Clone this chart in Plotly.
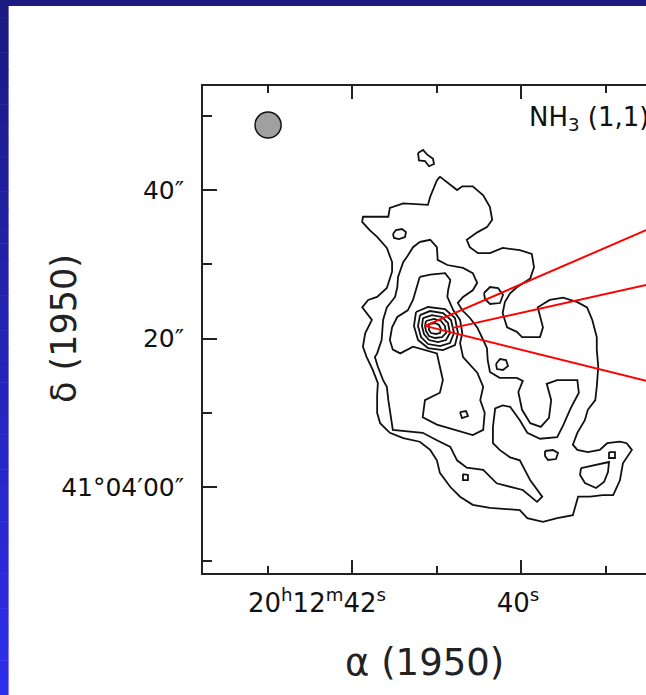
import math
import plotly.graph_objects as go

# ---------------- data ----------------
# Offsets in arcsec from RA 20h12m42s, Dec 41°04'00" (B1950); RA offset grows to the east (left).
DEC0_DEG = 41 + 4 / 60
RA_TICK_SEC = [43, 42, 41, 40, 39]
RA_LABELLED_SEC = [42, 40]
RA_TICK_TEXT = ["20<sup>h</sup>12<sup>m</sup>42<sup>s</sup>", "40<sup>s</sup>"]
DEC_TICKS = [-10, 0, 10, 20, 30, 40, 50]
DEC_LABELLED = [0, 20, 40]
DEC_TICK_TEXT = ["41°04′00″", "20″", "40″"]

# NH3 (1,1) integrated-intensity contours, traced (x = RA offset ", y = Dec offset ")
level1_x = [-11.7, -12.8, -14.0, -14.7, -16.1, -17.5, -18.4, -18.7, -18.0, -16.7, -15.3, -15.7, -16.8, -18.4,
            -20.1, -22.4, -24.0, -24.3, -23.8, -22.0, -21.1, -20.4, -20.1, -20.7, -22.0, -22.7, -25.1, -25.5,
            -24.8, -26.4, -28.2, -30.1, -31.4, -32.1, -32.7, -32.7, -32.9, -32.7, -32.5, -31.5, -31.1, -30.1,
            -29.5, -30.1, -31.5, -33.1, -34.1, -35.8, -36.7, -37.4, -36.7, -36.2, -35.8, -34.9, -33.5, -31.8,
            -30.2, -29.5, -27.4, -25.5, -23.4, -22.4, -18.4, -16.1, -14.4, -13.1, -11.7, -11.3, -10.4, -9.0,
            -6.8, -5.0, -3.7, -3.3, -3.3, -3.4, -2.7, -1.9, -1.4, -1.7, -2.6, -1.9, -1.3, -2.1, -3.3, -4.6,
            -5.3, -5.3, -4.6, -3.3, -2.3, -1.3, -1.4, -4.8, -5.0, -6.8, -10.1, -10.4, -11.3, -11.7]
level1_y = [41.8, 40.9, 40.0, 40.5, 40.5, 39.3, 37.7, 36.0, 35.0, 34.3, 33.3, 32.3, 31.5, 31.5,
            32.2, 31.9, 31.4, 29.6, 28.1, 26.9, 26.1, 24.9, 23.4, 21.5, 20.9, 20.2, 20.2, 21.5,
            24.2, 25.2, 25.5, 24.9, 24.2, 22.5, 20.2, 18.5, 16.2, 13.5, 11.7, 10.4, 9.0, 7.3,
            5.7, 5.0, 4.7, 5.0, 5.9, 6.1, 5.9, 5.0, 4.0, 3.2, 0.9, -1.1, -1.1, -1.3,
            -1.3, -3.8, -4.2, -4.7, -4.2, -3.1, -2.8, -2.4, -1.3, 0.0, 1.9, 3.6, 5.0, 6.1,
            6.6, 7.3, 8.6, 10.0, 12.4, 14.0, 15.8, 17.5, 18.9, 20.7, 22.5, 23.4, 24.2, 25.2, 25.6, 26.8,
            29.0, 30.3, 32.2, 33.7, 34.6, 35.7, 36.4, 36.4, 37.6, 38.2, 38.0, 39.1, 41.3, 41.8]

level2_x = [-9.0, -10.4, -11.3, -11.4, -12.7, -14.8, -16.1, -16.7, -16.1, -14.8, -14.1, -14.7, -15.7, -16.7,
            -17.5, -18.0, -18.1, -18.4, -19.7, -22.0, -22.8, -22.2, -22.7, -23.8, -25.2, -26.3, -26.6, -26.0,
            -27.4, -30.1, -30.3, -29.2, -28.2, -27.4, -25.1, -23.4, -22.4, -21.1, -20.1, -19.1, -18.8, -18.8,
            -19.7, -21.1, -22.4, -23.8, -25.4, -24.7, -22.8, -19.3, -17.5, -15.3, -14.0, -13.1, -11.3, -9.4,
            -5.4, -5.0, -4.8, -4.6, -4.1, -3.4, -3.0, -3.3, -3.9, -4.1, -4.6, -5.7, -6.0, -6.1, -6.8, -7.3,
            -8.1, -9.0]
level2_y = [33.0, 33.3, 32.3, 30.6, 29.9, 29.5, 28.8, 27.5, 26.5, 25.6, 24.8, 23.8, 22.8, 21.5,
            19.8, 18.7, 17.1, 15.5, 14.7, 14.7, 14.3, 12.8, 10.4, 8.6, 8.1, 9.3, 11.7, 13.9,
            14.4, 14.4, 12.7, 10.6, 8.3, 6.7, 6.5, 7.3, 9.0, 10.8, 11.0, 10.6, 8.1, 5.9,
            5.0, 4.0, 3.6, 0.9, -1.3, -2.0, -0.4, 0.5, 2.3, 2.6, 3.6, 5.4, 6.3, 7.3,
            7.7, 10.0, 11.7, 13.5, 14.4, 16.2, 17.5, 18.0, 19.8, 22.5, 24.2, 25.6, 26.9, 28.3, 30.3, 31.0,
            32.3, 33.0]

level3_x = [-9.0, -8.4, -8.1, -7.4, -6.0, -5.3, -5.0, -5.4, -6.4, -8.1, -9.4, -11.3, -11.7, -12.1, -11.7,
            -9.7, -9.4, -11.3, -16.1, -17.5, -17.7, -17.1, -17.5, -16.7, -14.8, -14.4, -14.7, -14.4, -13.5,
            -12.7, -12.8, -13.1, -12.4, -10.4, -9.0]
level3_y = [28.3, 26.1, 25.2, 23.8, 22.9, 21.5, 19.8, 18.5, 18.0, 18.9, 18.5, 18.0, 16.2, 14.4, 12.7,
            11.7, 9.4, 8.4, 7.0, 7.7, 10.0, 11.7, 13.5, 15.4, 17.5, 19.4, 20.7, 22.5, 23.8,
            25.6, 26.5, 27.9, 28.8, 28.6, 28.3]

# nested contours around the compact core
core1_x = [-8.50, -10.11, -12.38, -13.72, -14.12, -13.72, -12.12, -10.11, -8.77, -8.23, -8.50]
core1_y = [23.57, 24.24, 23.97, 22.76, 20.74, 19.12, 18.45, 18.72, 19.80, 21.68, 23.57]
core2_x = [-9.04, -10.37, -12.12, -13.19, -13.59, -13.05, -11.71, -10.11, -9.17, -8.77, -9.04]
core2_y = [23.16, 23.70, 23.43, 22.49, 20.74, 19.39, 18.99, 19.26, 20.20, 21.68, 23.16]
core3_x = [-9.44, -10.64, -11.98, -12.78, -13.05, -12.52, -11.45, -10.24, -9.57, -9.30, -9.44]
core3_y = [22.76, 23.16, 22.90, 22.09, 20.74, 19.80, 19.53, 19.80, 20.61, 21.68, 22.76]
core4_x = [-9.84, -10.91, -11.85, -12.38, -12.52, -11.98, -11.04, -10.24, -9.84, -9.71, -9.84]
core4_y = [22.36, 22.63, 22.36, 21.68, 20.74, 20.20, 20.07, 20.34, 21.01, 21.68, 22.36]
core5_x = [-10.24, -11.04, -11.58, -11.85, -11.71, -11.18, -10.51, -10.24, -10.24]
core5_y = [21.95, 22.09, 21.82, 21.28, 20.74, 20.61, 20.74, 21.14, 21.95]

# small isolated islands
isl_top_x = [-8.77, -9.44, -9.97, -10.78, -10.91, -10.24, -9.71, -8.90, -8.77]
isl_top_y = [45.0, 45.4, 44.8, 44.2, 43.5, 43.2, 43.9, 44.0, 45.0]
isl_a_x = [-5.42, -5.82, -6.63, -7.16, -7.03, -6.22, -5.56, -5.42]
isl_a_y = [34.07, 34.61, 34.75, 34.34, 33.67, 33.40, 33.54, 34.07]
isl_b_x = [-17.60, -18.41, -19.48, -20.15, -19.75, -18.41, -17.74, -17.60]
isl_b_y = [26.13, 26.94, 26.80, 25.86, 24.78, 24.65, 25.32, 26.13]
isl_c_x = [-14.39, -15.19, -15.46, -14.66, -14.39]
isl_c_y = [10.10, 10.24, 9.56, 9.29, 10.10]
isl_d_x = [-19.21, -19.75, -20.55, -20.82, -20.15, -19.34, -19.21]
isl_d_y = [16.57, 17.24, 17.10, 16.30, 15.76, 15.89, 16.57]
isl_e_x = [-14.79, -15.46, -15.46, -14.79, -14.79]
isl_e_y = [1.75, 1.62, 0.94, 0.94, 1.75]
isl_f_x = [-25.77, -26.84, -27.51, -27.24, -26.17, -25.77, -25.77]
isl_f_y = [4.85, 4.98, 4.58, 3.77, 3.64, 4.18, 4.85]
isl_g_x = [-34.34, -35.14, -35.14, -34.34, -34.34]
isl_g_y = [4.71, 4.71, 3.91, 3.91, 4.71]
isl_h_x = [-30.59, -32.46, -34.34, -34.20, -33.67, -32.60, -31.12, -30.46, -30.59]
isl_h_y = [2.56, 2.96, 3.37, 2.02, 0.67, -0.13, 0.54, 1.62, 2.56]

# red pointer lines (start, end) in the same offsets
red_x = [-9.7, -39.3, None, -13.3, -39.3, None, -9.7, -39.3]
red_y = [21.7, 34.6, None, 21.4, 27.2, None, 21.7, 14.3]

# synthesized beam
BEAM_X, BEAM_Y, BEAM_FWHM = 11.3, 48.75, 3.5

# ---------------- figure ----------------
W, H = 646, 695
ML, MT, MB = 203, 86, 122
PW, PH = W - ML, H - MT - MB
X_RANGE = [20.01, -39.29]
Y_RANGE = [-11.58, 54.01]
PX_PER_ARCSEC = PW / (X_RANGE[0] - X_RANGE[1])

arcsec_per_sec = 15 * math.cos(math.radians(DEC0_DEG))
ra_off = lambda s: (s - 42) * arcsec_per_sec   # east (larger RA) is positive, drawn to the left
major_x = [ra_off(s) for s in RA_LABELLED_SEC]
minor_x = [ra_off(s) for s in RA_TICK_SEC if s not in RA_LABELLED_SEC]
minor_y = [d for d in DEC_TICKS if d not in DEC_LABELLED]
# label centres: the long label sits left of its tick (as in the original layout)
LABEL_SHIFT_PX = [35.5, 3.5]
label_x = [v + s / PX_PER_ARCSEC for v, s in zip(major_x, LABEL_SHIFT_PX)]


def pxx(px):
    return (px - ML) / PW


def pxy(py):
    return (MT + PH - py) / PH


FONT = "DejaVu Sans"
LINE = dict(color="#111111", width=1.8)

fig = go.Figure()
contours = [
    (level1_x, level1_y), (level2_x, level2_y), (level3_x, level3_y),
    (core1_x, core1_y), (core2_x, core2_y), (core3_x, core3_y), (core4_x, core4_y), (core5_x, core5_y),
    (isl_top_x, isl_top_y), (isl_a_x, isl_a_y), (isl_b_x, isl_b_y), (isl_c_x, isl_c_y), (isl_d_x, isl_d_y),
    (isl_e_x, isl_e_y), (isl_f_x, isl_f_y), (isl_g_x, isl_g_y), (isl_h_x, isl_h_y),
]
for cx, cy in contours:
    fig.add_trace(go.Scatter(x=cx, y=cy, mode="lines", line=LINE, showlegend=False, hoverinfo="skip"))

fig.add_trace(go.Scatter(x=red_x, y=red_y, mode="lines", line=dict(color="#ff0000", width=2),
                         xaxis="x2", yaxis="y", showlegend=False, hoverinfo="skip"))

shapes = []
# slide frame: navy top bar and left gradient bar
shapes.append(dict(type="rect", xref="paper", yref="paper", x0=pxx(0), x1=pxx(W), y0=pxy(6), y1=pxy(0),
                   fillcolor="rgb(26,26,128)", line=dict(width=0), layer="below"))
NB = 40
c0, c1 = (26, 26, 128), (46, 46, 236)
for i in range(NB):
    t = (i + 0.5) / NB
    col = tuple(int(round(c0[k] + (c1[k] - c0[k]) * t)) for k in range(3))
    shapes.append(dict(type="rect", xref="paper", yref="paper", x0=pxx(0), x1=pxx(8.6),
                       y0=pxy(H * (i + 1) / NB + 0.5), y1=pxy(H * i / NB),
                       fillcolor="rgb(%d,%d,%d)" % col, line=dict(width=0), layer="below"))
# beam
r = BEAM_FWHM / 2
shapes.append(dict(type="circle", xref="x", yref="y", x0=BEAM_X - r, x1=BEAM_X + r,
                   y0=BEAM_Y - r, y1=BEAM_Y + r, fillcolor="#a0a0a0", line=dict(color="#111", width=1.5)))

annotations = [
    dict(text="NH<sub>3</sub> (1,1)", xref="paper", yref="paper", x=pxx(527), y=pxy(119),
         xanchor="left", yanchor="middle", showarrow=False, font=dict(family=FONT, size=26, color="#111")),
    dict(text="α (1950)", xref="paper", yref="paper", x=pxx(424), y=pxy(662),
         xanchor="center", yanchor="middle", showarrow=False, font=dict(family=FONT, size=37, color="#222")),
    dict(text="δ (1950)", xref="paper", yref="paper", x=pxx(64), y=pxy(329), textangle=-90,
         xanchor="center", yanchor="middle", showarrow=False, font=dict(family=FONT, size=35, color="#222")),
]

fig.update_layout(
    width=W, height=H,
    margin=dict(l=ML, r=0, t=MT, b=MB, pad=0),
    paper_bgcolor="white", plot_bgcolor="white",
    shapes=shapes, annotations=annotations,
    xaxis=dict(range=X_RANGE, showgrid=False, zeroline=False, showline=True, linecolor="#222", linewidth=1.8,
               mirror="ticks", ticks="inside", ticklen=13, tickwidth=1.6, tickcolor="#222",
               tickmode="array", tickvals=major_x, showticklabels=False,
               minor=dict(tickmode="array", tickvals=minor_x, ticks="inside", ticklen=7, tickwidth=1.6,
                          tickcolor="#222", showgrid=False)),
    xaxis2=dict(range=X_RANGE, overlaying="x", anchor="y", side="bottom", showgrid=False, zeroline=False,
                showline=False, ticks="", tickmode="array", tickvals=label_x, ticktext=RA_TICK_TEXT,
                tickfont=dict(family=FONT, size=26, color="#111"), ticklabelstandoff=12),
    yaxis=dict(range=Y_RANGE, showgrid=False, zeroline=False, showline=True, linecolor="#222", linewidth=1.8,
               mirror=False, ticks="inside", ticklen=14, tickwidth=1.6, tickcolor="#222",
               tickmode="array", tickvals=DEC_LABELLED, ticktext=DEC_TICK_TEXT,
               tickfont=dict(family=FONT, size=25, color="#111"), ticklabelstandoff=12,
               minor=dict(tickmode="array", tickvals=minor_y, ticks="inside", ticklen=9, tickwidth=1.6,
                          tickcolor="#222", showgrid=False)),
)

fig.write_html("out.html")
